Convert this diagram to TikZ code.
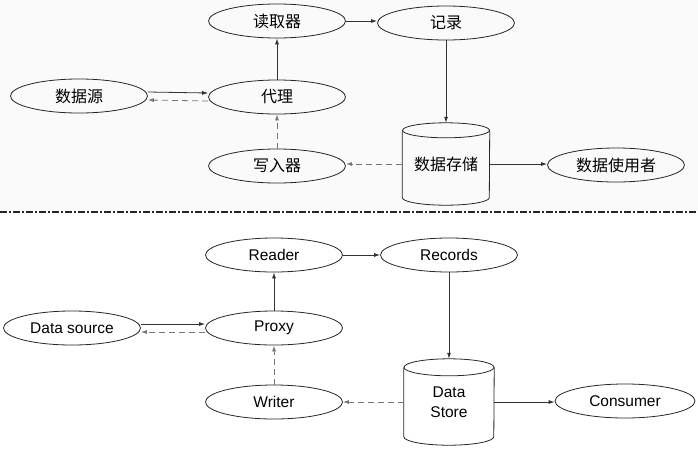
\documentclass[tikz,border=0pt]{standalone}
\usepackage{fontspec}
\setmainfont{Liberation Sans}
\newfontfamily\cjk{Noto Sans CJK SC}
\usetikzlibrary{arrows.meta,calc,shapes.geometric}
\definecolor{topbg}{HTML}{FAFAFA}
\definecolor{solidc}{HTML}{333333}
\definecolor{dashc}{HTML}{777777}
\tikzset{
  oval/.style={draw=black!85, line width=0.8pt, ellipse, inner sep=0pt, minimum width=137pt, minimum height=34pt, font=\fontsize{15.5}{18}\selectfont},
  zh/.style={font=\cjk\fontsize{16}{19}\selectfont},
  cylbody/.style={draw=none, inner sep=0pt, align=center},
  cylline/.style={line width=0.8pt, draw=black!85},
  sarrow/.style={draw=solidc, line width=0.8pt, -{Latex[length=6pt,width=4pt]}},
  darrow/.style={draw=dashc, line width=0.8pt, dash pattern=on 6pt off 4pt, -{Latex[length=6pt,width=4pt]}},
}
\begin{document}
\begin{tikzpicture}[x=1pt,y=-1pt]
\useasboundingbox (0,0) rectangle (698,453);
\fill[topbg] (0,0) rectangle (698,211);
\draw[line width=1.8pt, black!85, dash pattern=on 7pt off 2pt on 2pt off 2pt] (0,212) -- (698,212);

% ---------- top (Chinese) ----------
\node[oval,zh] (dq) at (277,21) {读取器};
\node[oval,zh] (jl) at (446,23) {记录};
\node[oval,zh] (sjy) at (79,96) {数据源};
\node[oval,zh] (dl) at (277,97) {代理};
\node[oval,zh] (xr) at (277,166) {写入器};
\node[oval,zh] (syz) at (616,165) {数据使用者};
\node[cylbody,zh,minimum width=87pt,minimum height=82pt] (sjcc) at (446,164) {数据存储};
\draw[cylline]
  ([yshift=-7.5pt]sjcc.north west) -- ([yshift=7.5pt]sjcc.south west)
  arc[start angle=180,end angle=360,x radius=43.5pt,y radius=7.5pt]
  -- ([yshift=-7.5pt]sjcc.north east);
\draw[cylline] ([yshift=-7.5pt]sjcc.north) ellipse[x radius=43.5pt,y radius=7.5pt];

\draw[sarrow] ([yshift=4pt]sjy.east) -- ([yshift=4pt]dl.west);
\draw[darrow] ([yshift=-4pt]dl.west) -- ([yshift=-4pt]sjy.east);
\draw[sarrow] (dl.north) -- (dq.south);
\draw[darrow] (xr.north) -- (dl.south);
\draw[sarrow] (dq.east) -- (dq.east -| jl.west);
\draw[sarrow] (jl.south) -- (sjcc.north);
\draw[darrow] (sjcc.west) -- (sjcc.west -| xr.east);
\draw[sarrow] (sjcc.east) -- (sjcc.east -| syz.west);

% ---------- bottom (English) ----------
\node[oval] (rd) at (274,255) {Reader};
\node[oval] (rc) at (449,255) {Records};
\node[oval] (ds) at (72,328) {Data source};
\node[oval] (px) at (274,328) {Proxy};
\node[oval] (wr) at (274,402) {Writer};
\node[oval,minimum width=140pt] (cs) at (625,401) {Consumer};
\node[cylbody,font=\fontsize{15.5}{20}\selectfont,minimum width=90pt,minimum height=86pt] (st) at (449,402) {Data\\Store};
\draw[cylline]
  ([yshift=-8.5pt]st.north west) -- ([yshift=8.5pt]st.south west)
  arc[start angle=180,end angle=360,x radius=45pt,y radius=8.5pt]
  -- ([yshift=-8.5pt]st.north east);
\draw[cylline] ([yshift=-8.5pt]st.north) ellipse[x radius=45pt,y radius=8.5pt];

\draw[sarrow] ([yshift=4pt]ds.east) -- ([yshift=4pt]px.west);
\draw[darrow] ([yshift=-4pt]px.west) -- ([yshift=-4pt]ds.east);
\draw[sarrow] (px.north) -- (rd.south);
\draw[darrow] (wr.north) -- (px.south);
\draw[sarrow] (rd.east) -- (rc.west);
\draw[sarrow] (rc.south) -- (st.north);
\draw[darrow] (st.west) -- (st.west -| wr.east);
\draw[sarrow] (st.east) -- (st.east -| cs.west);
\end{tikzpicture}
\end{document}
